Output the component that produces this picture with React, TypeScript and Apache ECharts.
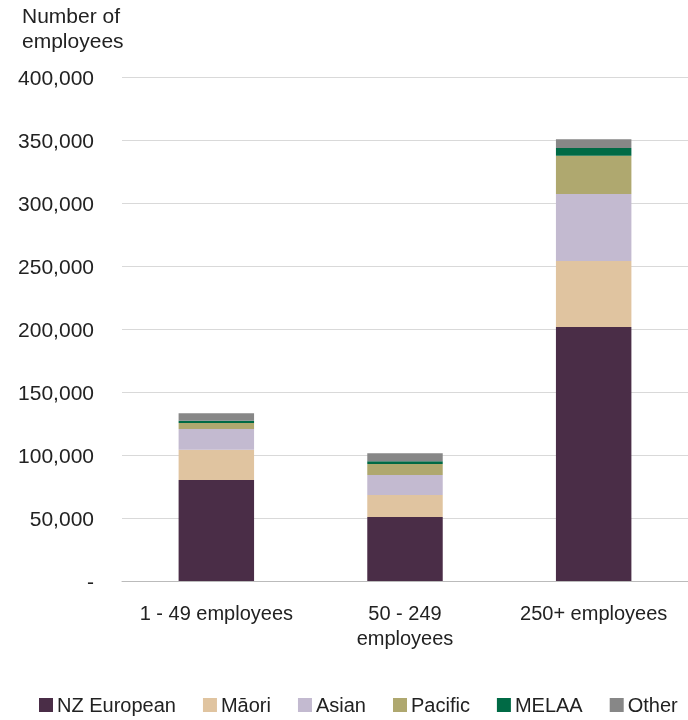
import React, { useEffect, useRef } from "react";
import * as echarts from "echarts";

const categories = ["1 - 49 employees", "50 - 249\nemployees", "250+ employees"];
const seriesNames = ["NZ European", "Māori", "Asian", "Pacific", "MELAA", "Other"];
const nzEuropean = [80200, 50800, 201600];
const maori = [24000, 17500, 52400];
const asian = [16500, 15800, 53100];
const pacific = [4600, 8800, 30400];
const melaa = [1800, 2100, 6200];
const other = [6000, 6300, 6800];
const colors = ["#4a2d47", "#e0c4a0", "#c3bad0", "#afa86f", "#006a45", "#878787"];

const FONT = "'Liberation Sans', Arial, sans-serif";

export default function App() {
  const ref = useRef<HTMLDivElement>(null);
  useEffect(() => {
    const chart = echarts.init(ref.current!, null, { renderer: "svg" });
    const data = [nzEuropean, maori, asian, pacific, melaa, other];
    chart.setOption({
      animation: false,
      textStyle: { fontFamily: FONT },
      grid: { left: 122, right: 0, top: 77, bottom: 139 },
      graphic: [
        {
          type: "text",
          left: 22,
          top: 3,
          style: { text: "Number of\nemployees", fontSize: 21, lineHeight: 25, fill: "#222", fontFamily: FONT },
        },
      ],
      legend: {
        bottom: 0,
        left: 34,
        itemWidth: 14,
        itemHeight: 14,
        itemGap: 27,
        icon: "rect",
        textStyle: { fontSize: 20, color: "#222", fontFamily: FONT, padding: [0, 0, 0, -1] },
        data: seriesNames,
      },
      xAxis: {
        type: "category",
        data: categories,
        axisLine: { lineStyle: { color: "#bbbbbb", width: 1 } },
        axisTick: { show: false },
        axisLabel: { fontSize: 20, color: "#222", margin: 19, lineHeight: 25, interval: 0 },
      },
      yAxis: {
        type: "value",
        min: 0,
        max: 400000,
        interval: 50000,
        axisLine: { show: false },
        axisTick: { show: false },
        splitLine: { lineStyle: { color: "#d9d9d9", width: 1 } },
        axisLabel: {
          fontSize: 21,
          color: "#222",
          margin: 28,
          formatter: (v: number) => (v === 0 ? "-" : v.toLocaleString("en-US")),
        },
      },
      series: seriesNames.map((name, i) => ({
        name,
        type: "bar",
        stack: "total",
        barWidth: "40%",
        data: data[i],
        itemStyle: { color: colors[i] },
      })),
    });
    return () => chart.dispose();
  }, []);
  return <div ref={ref} style={{ position: "fixed", left: 0, top: 0, width: 688, height: 720 }} />;
}
